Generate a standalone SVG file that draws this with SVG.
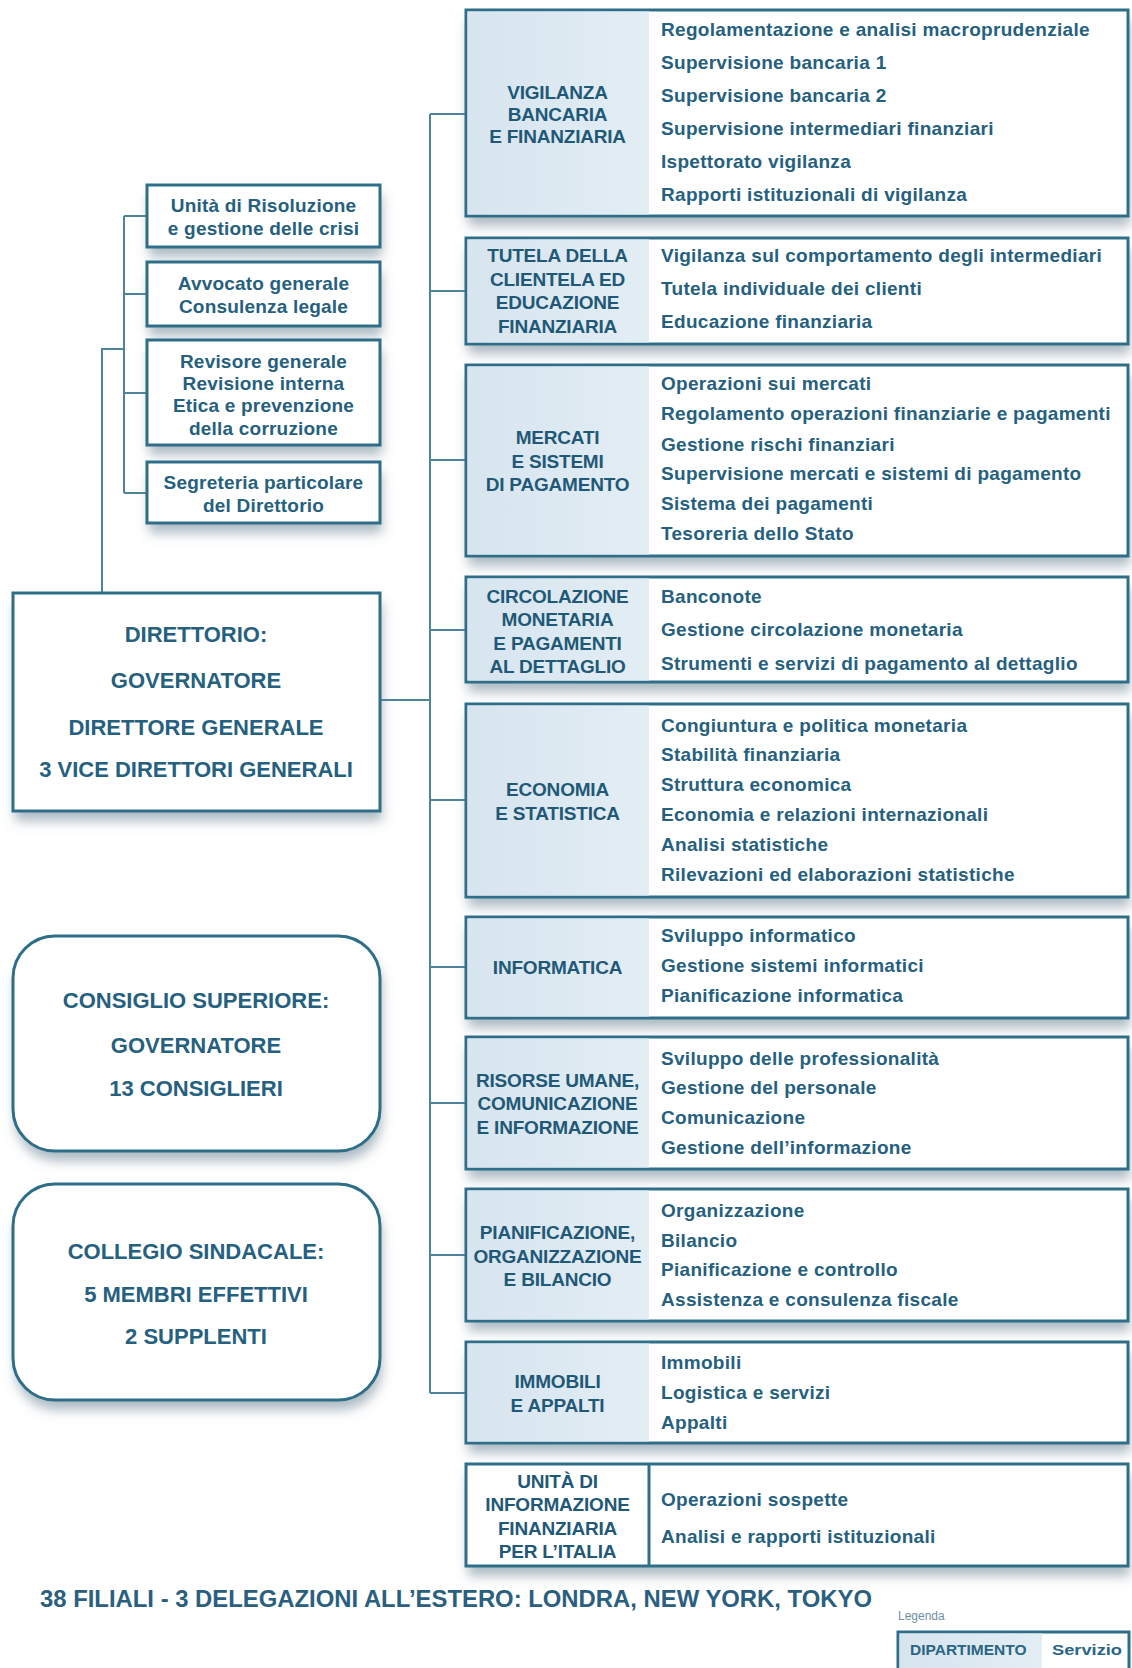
<svg xmlns="http://www.w3.org/2000/svg" width="1132" height="1668" viewBox="0 0 1132 1668">
<defs>
<style>
.box{fill:#ffffff;stroke:#2f6e88;stroke-width:3}
.bg{fill:#ffffff;filter:url(#sh)}
.lab{fill:url(#labg)}
.item{font-family:"Liberation Sans",Arial,sans-serif;font-weight:bold;font-size:19px;fill:#25607e;letter-spacing:0.3px}
.dept{font-family:"Liberation Sans",Arial,sans-serif;font-weight:bold;font-size:19px;fill:#1f5977;text-anchor:middle;letter-spacing:-0.2px}
.small{font-family:"Liberation Sans",Arial,sans-serif;font-weight:bold;font-size:19px;fill:#25607e;text-anchor:middle;letter-spacing:0.2px}
.big{font-family:"Liberation Sans",Arial,sans-serif;font-weight:bold;font-size:22px;fill:#25607e;text-anchor:middle}
.conn{stroke:#4f8399;stroke-width:2;fill:none}
.foot{font-family:"Liberation Sans",Arial,sans-serif;font-weight:bold;font-size:23px;fill:#2a5f80}
.leg{font-family:"Liberation Sans",Arial,sans-serif;font-size:12px;fill:#6f8fa3}
.legt{font-family:"Liberation Sans",Arial,sans-serif;font-weight:bold;font-size:15.5px;fill:#2a6583}
</style>
<linearGradient id="labg" x1="0" y1="0" x2="1" y2="0">
<stop offset="0" stop-color="#d7e5ef"/>
<stop offset="1" stop-color="#e3edf4"/>
</linearGradient>
<filter id="sh" x="-10%" y="-10%" width="120%" height="150%">
<feDropShadow dx="2" dy="10" stdDeviation="6" flood-color="#6a8292" flood-opacity="0.55"/>
</filter>
</defs>
<rect width="1132" height="1668" fill="#ffffff"/>

<g id="connectors">
<path class="conn" d="M430 114 V1393"/>
<path class="conn" d="M430 114 H466 M430 291 H466 M430 460 H466 M430 630 H466 M430 800 H466 M430 967 H466 M430 1103 H466 M430 1255 H466 M430 1393 H466"/>
<path class="conn" d="M380 700 H430"/>
<path class="conn" d="M124 216 V493 M124 216 H147 M124 294 H147 M124 393 H147 M124 493 H147"/>
<path class="conn" d="M124 349 H102 V593"/>
</g>

<g id="unita-risoluzione">
<rect class="bg" x="147" y="185" width="233" height="62"/>
<rect class="box" x="147" y="185" width="233" height="62"/>
<text class="small" x="263.5" y="212">Unità di Risoluzione</text>
<text class="small" x="263.5" y="235">e gestione delle crisi</text>
</g>
<g id="avvocato">
<rect class="bg" x="147" y="262" width="233" height="64"/>
<rect class="box" x="147" y="262" width="233" height="64"/>
<text class="small" x="263.5" y="290">Avvocato generale</text>
<text class="small" x="263.5" y="313">Consulenza legale</text>
</g>
<g id="revisore">
<rect class="bg" x="147" y="340" width="233" height="105"/>
<rect class="box" x="147" y="340" width="233" height="105"/>
<text class="small" x="263.5" y="368">Revisore generale</text>
<text class="small" x="263.5" y="390">Revisione interna</text>
<text class="small" x="263.5" y="412">Etica e prevenzione</text>
<text class="small" x="263.5" y="435">della corruzione</text>
</g>
<g id="segreteria">
<rect class="bg" x="147" y="462" width="233" height="61"/>
<rect class="box" x="147" y="462" width="233" height="61"/>
<text class="small" x="263.5" y="489">Segreteria particolare</text>
<text class="small" x="263.5" y="512">del Direttorio</text>
</g>

<g id="direttorio">
<rect class="bg" x="13" y="593" width="367" height="218"/>
<rect class="box" x="13" y="593" width="367" height="218"/>
<text class="big" x="196" y="642">DIRETTORIO:</text>
<text class="big" x="196" y="688">GOVERNATORE</text>
<text class="big" x="196" y="735">DIRETTORE GENERALE</text>
<text class="big" x="196" y="777">3 VICE DIRETTORI GENERALI</text>
</g>
<g id="consiglio">
<rect class="bg" x="13" y="936" width="367" height="215" rx="42"/>
<rect class="box" x="13" y="936" width="367" height="215" rx="42"/>
<text class="big" x="196" y="1008">CONSIGLIO SUPERIORE:</text>
<text class="big" x="196" y="1053">GOVERNATORE</text>
<text class="big" x="196" y="1096">13 CONSIGLIERI</text>
</g>
<g id="collegio">
<rect class="bg" x="13" y="1184" width="367" height="216" rx="42"/>
<rect class="box" x="13" y="1184" width="367" height="216" rx="42"/>
<text class="big" x="196" y="1259">COLLEGIO SINDACALE:</text>
<text class="big" x="196" y="1302">5 MEMBRI EFFETTIVI</text>
<text class="big" x="196" y="1344">2 SUPPLENTI</text>
</g>

<g id="vigilanza">
<rect class="bg" x="466" y="10" width="662" height="206"/>
<rect class="box" x="466" y="10" width="662" height="206"/>
<rect class="lab" x="467.5" y="11.5" width="181.5" height="203"/>
<text class="dept" x="557.5" y="98.5">VIGILANZA</text>
<text class="dept" x="557.5" y="121">BANCARIA</text>
<text class="dept" x="557.5" y="143">E FINANZIARIA</text>
<text class="item" x="661" y="36">Regolamentazione e analisi macroprudenziale</text>
<text class="item" x="661" y="69">Supervisione bancaria 1</text>
<text class="item" x="661" y="102">Supervisione bancaria 2</text>
<text class="item" x="661" y="135">Supervisione intermediari finanziari</text>
<text class="item" x="661" y="168">Ispettorato vigilanza</text>
<text class="item" x="661" y="201">Rapporti istituzionali di vigilanza</text>
</g>
<g id="tutela">
<rect class="bg" x="466" y="238" width="662" height="106"/>
<rect class="box" x="466" y="238" width="662" height="106"/>
<rect class="lab" x="467.5" y="239.5" width="181.5" height="103"/>
<text class="dept" x="557.5" y="262">TUTELA DELLA</text>
<text class="dept" x="557.5" y="286">CLIENTELA ED</text>
<text class="dept" x="557.5" y="309">EDUCAZIONE</text>
<text class="dept" x="557.5" y="333">FINANZIARIA</text>
<text class="item" x="661" y="262">Vigilanza sul comportamento degli intermediari</text>
<text class="item" x="661" y="295">Tutela individuale dei clienti</text>
<text class="item" x="661" y="328">Educazione finanziaria</text>
</g>
<g id="mercati">
<rect class="bg" x="466" y="365" width="662" height="191"/>
<rect class="box" x="466" y="365" width="662" height="191"/>
<rect class="lab" x="467.5" y="366.5" width="181.5" height="188"/>
<text class="dept" x="557.5" y="444">MERCATI</text>
<text class="dept" x="557.5" y="468">E SISTEMI</text>
<text class="dept" x="557.5" y="491">DI PAGAMENTO</text>
<text class="item" x="661" y="390">Operazioni sui mercati</text>
<text class="item" x="661" y="420">Regolamento operazioni finanziarie e pagamenti</text>
<text class="item" x="661" y="451">Gestione rischi finanziari</text>
<text class="item" x="661" y="480">Supervisione mercati e sistemi di pagamento</text>
<text class="item" x="661" y="510">Sistema dei pagamenti</text>
<text class="item" x="661" y="540">Tesoreria dello Stato</text>
</g>
<g id="circolazione">
<rect class="bg" x="466" y="577" width="662" height="105"/>
<rect class="box" x="466" y="577" width="662" height="105"/>
<rect class="lab" x="467.5" y="578.5" width="181.5" height="102"/>
<text class="dept" x="557.5" y="603">CIRCOLAZIONE</text>
<text class="dept" x="557.5" y="626">MONETARIA</text>
<text class="dept" x="557.5" y="650">E PAGAMENTI</text>
<text class="dept" x="557.5" y="673">AL DETTAGLIO</text>
<text class="item" x="661" y="603">Banconote</text>
<text class="item" x="661" y="636">Gestione circolazione monetaria</text>
<text class="item" x="661" y="670">Strumenti e servizi di pagamento al dettaglio</text>
</g>
<g id="economia">
<rect class="bg" x="466" y="704" width="662" height="193"/>
<rect class="box" x="466" y="704" width="662" height="193"/>
<rect class="lab" x="467.5" y="705.5" width="181.5" height="190"/>
<text class="dept" x="557.5" y="796">ECONOMIA</text>
<text class="dept" x="557.5" y="820">E STATISTICA</text>
<text class="item" x="661" y="732">Congiuntura e politica monetaria</text>
<text class="item" x="661" y="761">Stabilità finanziaria</text>
<text class="item" x="661" y="791">Struttura economica</text>
<text class="item" x="661" y="821">Economia e relazioni internazionali</text>
<text class="item" x="661" y="851">Analisi statistiche</text>
<text class="item" x="661" y="881">Rilevazioni ed elaborazioni statistiche</text>
</g>
<g id="informatica">
<rect class="bg" x="466" y="917" width="662" height="101"/>
<rect class="box" x="466" y="917" width="662" height="101"/>
<rect class="lab" x="467.5" y="918.5" width="181.5" height="98"/>
<text class="dept" x="557.5" y="974">INFORMATICA</text>
<text class="item" x="661" y="942">Sviluppo informatico</text>
<text class="item" x="661" y="972">Gestione sistemi informatici</text>
<text class="item" x="661" y="1002">Pianificazione informatica</text>
</g>
<g id="risorse">
<rect class="bg" x="466" y="1037" width="662" height="132"/>
<rect class="box" x="466" y="1037" width="662" height="132"/>
<rect class="lab" x="467.5" y="1038.5" width="181.5" height="129"/>
<text class="dept" x="557.5" y="1087">RISORSE UMANE,</text>
<text class="dept" x="557.5" y="1110">COMUNICAZIONE</text>
<text class="dept" x="557.5" y="1134">E INFORMAZIONE</text>
<text class="item" x="661" y="1065">Sviluppo delle professionalità</text>
<text class="item" x="661" y="1094">Gestione del personale</text>
<text class="item" x="661" y="1124">Comunicazione</text>
<text class="item" x="661" y="1154">Gestione dell’informazione</text>
</g>
<g id="pianificazione">
<rect class="bg" x="466" y="1189" width="662" height="132"/>
<rect class="box" x="466" y="1189" width="662" height="132"/>
<rect class="lab" x="467.5" y="1190.5" width="181.5" height="129"/>
<text class="dept" x="557.5" y="1239">PIANIFICAZIONE,</text>
<text class="dept" x="557.5" y="1262.5">ORGANIZZAZIONE</text>
<text class="dept" x="557.5" y="1286">E BILANCIO</text>
<text class="item" x="661" y="1217">Organizzazione</text>
<text class="item" x="661" y="1247">Bilancio</text>
<text class="item" x="661" y="1276">Pianificazione e controllo</text>
<text class="item" x="661" y="1306">Assistenza e consulenza fiscale</text>
</g>
<g id="immobili">
<rect class="bg" x="466" y="1342" width="662" height="101"/>
<rect class="box" x="466" y="1342" width="662" height="101"/>
<rect class="lab" x="467.5" y="1343.5" width="181.5" height="98"/>
<text class="dept" x="557.5" y="1388">IMMOBILI</text>
<text class="dept" x="557.5" y="1411.5">E APPALTI</text>
<text class="item" x="661" y="1369">Immobili</text>
<text class="item" x="661" y="1399">Logistica e servizi</text>
<text class="item" x="661" y="1428.5">Appalti</text>
</g>
<g id="uif">
<rect class="bg" x="466" y="1464" width="662" height="102"/>
<rect class="box" x="466" y="1464" width="662" height="102"/>
<path class="box" d="M649 1464 V1566"/>
<text class="dept" x="557.5" y="1488">UNITÀ DI</text>
<text class="dept" x="557.5" y="1511">INFORMAZIONE</text>
<text class="dept" x="557.5" y="1535">FINANZIARIA</text>
<text class="dept" x="557.5" y="1558">PER L’ITALIA</text>
<text class="item" x="661" y="1506">Operazioni sospette</text>
<text class="item" x="661" y="1543">Analisi e rapporti istituzionali</text>
</g>

<g id="footer">
<text class="foot" x="40" y="1607" textLength="832" lengthAdjust="spacingAndGlyphs">38 FILIALI - 3 DELEGAZIONI ALL’ESTERO: LONDRA, NEW YORK, TOKYO</text>
</g>

<g id="legend">
<text class="leg" x="898" y="1620">Legenda</text>
<rect class="box" x="898" y="1632" width="231" height="50"/>
<rect class="lab" x="899.5" y="1633.5" width="142.5" height="45"/>
<text class="legt" x="910" y="1655">DIPARTIMENTO</text>
<text class="legt" x="1052" y="1655" textLength="70" lengthAdjust="spacingAndGlyphs">Servizio</text>
</g>
</svg>
